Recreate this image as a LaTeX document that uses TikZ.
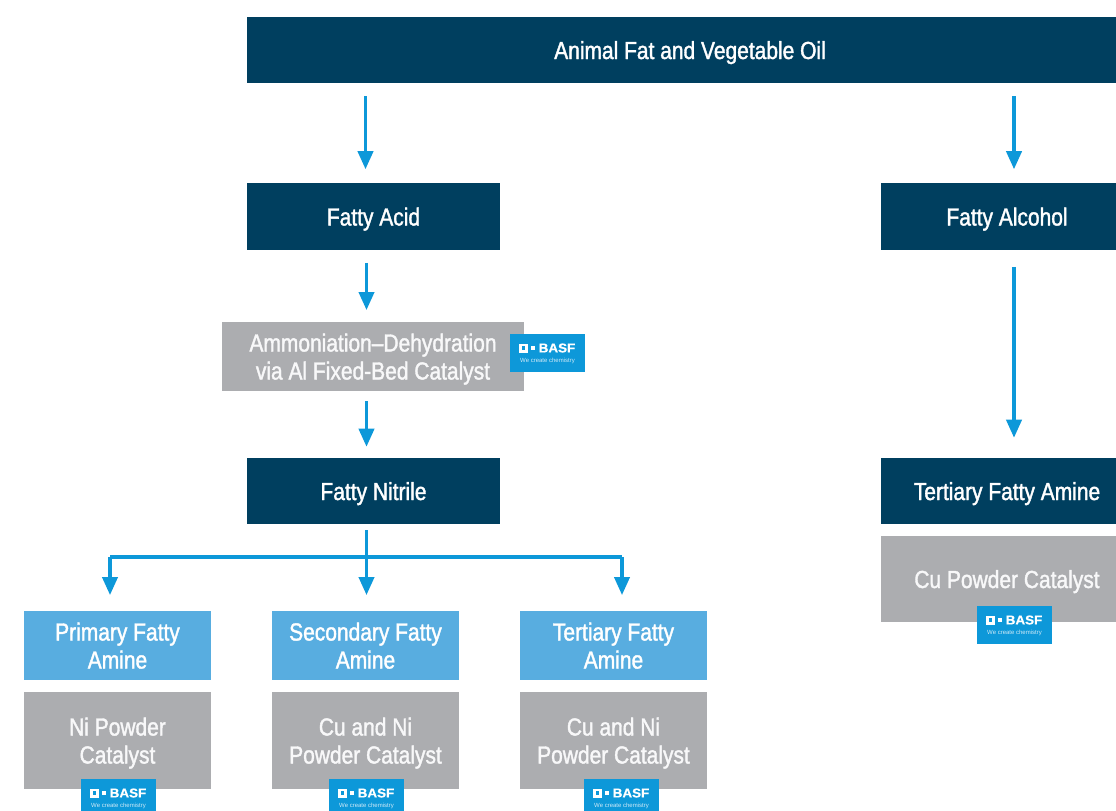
\documentclass[tikz,border=0pt]{standalone}
\usepackage{fontspec}
\setmainfont{Liberation Sans}[FakeStretch=0.85,FakeBold=1.5]
\newfontfamily\logofont{Liberation Sans}[FakeStretch=1.05,FakeBold=0.6]
\newfontfamily\tagfont{Liberation Sans}
\usetikzlibrary{arrows.meta}
\definecolor{darkbox}{HTML}{003F5F}
\definecolor{lightbox}{HTML}{58ADE0}
\definecolor{greybox}{HTML}{ACADB0}
\definecolor{flow}{HTML}{0D98D9}
\tikzset{
  x=0.75pt,y=-0.75pt,
  every node/.style={inner sep=0pt,outer sep=0pt},
  txt/.style={text=white,font=\fontsize{18.5pt}{21pt}\selectfont,align=center,text height=14pt,text depth=0.5pt},
  twolines/.style={text height=35pt,text depth=0.5pt},
  darkstyle/.style={fill=darkbox,txt},
  lightstyle/.style={fill=lightbox,txt,twolines,minimum width=140.25pt,minimum height=51.75pt},
  greystyle/.style={fill=greybox,txt,text=white!92!greybox},
  logobox/.style={fill=flow,minimum width=56.25pt,minimum height=28.5pt},
  flowline/.style={draw=flow,line width=2.3pt},
  flowarrow/.style={flowline,-{Triangle[length=13.5pt,width=11.5pt]}},
  logomark/.style={font=\logofont\bfseries\fontsize{9.6pt}{10pt}\selectfont,text=white},
  logotag/.style={font=\tagfont\fontsize{4.5pt}{5pt}\selectfont,text=white!80!flow},
  logosq/.style={draw=white,line width=2pt,minimum size=4.75pt},
  logodot/.style={fill=white,minimum size=3pt},
  pics/basflogo/.style={code={
    \node[logobox] (-bg) at (0,0) {};
    \node[logosq] (-sq) at (-24,-5) {};
    \node[logodot] (-dot) at (-14.5,-5) {};
    \node[logomark] (-name) at (9.5,-5) {BASF};
    \node[logotag] (-tag) at (0,8) {We create chemistry};
  }}
}
\begin{document}
\begin{tikzpicture}
\useasboundingbox (0,0) rectangle (1116,810);
\clip (0,0) rectangle (1116,810);
% dark boxes
\node[darkstyle,minimum width=664.5pt,minimum height=50pt] (oil) at (690,50) {Animal Fat and Vegetable Oil};
\node[darkstyle,minimum width=189.75pt,minimum height=50pt] (acid) at (373.5,216.5) {Fatty Acid};
\node[darkstyle,minimum width=189.75pt,minimum height=50pt] (alcohol) at (1007,216.5) {Fatty Alcohol};
\node[darkstyle,minimum width=189.75pt,minimum height=50pt] (nitrile) at (373.5,491) {Fatty Nitrile};
\node[darkstyle,minimum width=189.75pt,minimum height=50pt] (tertalc) at (1007,491) {Tertiary Fatty Amine};
% process boxes
\node[greystyle,twolines,minimum width=226.5pt,minimum height=51.75pt] (ammon) at (373,356.5) {Ammoniation–Dehydration\\via Al Fixed-Bed Catalyst};
\node[greystyle,minimum width=189.75pt,minimum height=64.5pt] (cupow) at (1007,579) {Cu Powder Catalyst};
% amine boxes
\node[lightstyle] (prim) at (117.5,645.5) {Primary Fatty\\Amine};
\node[lightstyle] (sec) at (365.5,645.5) {Secondary Fatty\\Amine};
\node[lightstyle] (tert) at (613.5,645.5) {Tertiary Fatty\\Amine};
\node[greystyle,twolines,minimum width=140.25pt,minimum height=72.75pt] (nicat) at (117.5,740.5) {Ni Powder\\Catalyst};
\node[greystyle,twolines,minimum width=140.25pt,minimum height=72.75pt] (cunia) at (365.5,740.5) {Cu and Ni\\Powder Catalyst};
\node[greystyle,twolines,minimum width=140.25pt,minimum height=72.75pt] (cunib) at (613.5,740.5) {Cu and Ni\\Powder Catalyst};
% logos
\pic (logoa) at (547.5,353) {basflogo};
\pic (logob) at (1014.5,625) {basflogo};
\pic (logoc) at (118.5,798) {basflogo};
\pic (logod) at (366.5,798) {basflogo};
\pic (logoe) at (621.5,798) {basflogo};
% columns for connectors
\coordinate (colA) at (365.5,0);
\coordinate (colB) at (366.5,0);
\coordinate (colC) at (1014,0);
\coordinate (colP) at (110,0);
\coordinate (colT) at (622,0);
\coordinate (bus) at (0,557);
\draw[flowarrow,shorten <=9.75pt,shorten >=10.5pt] (oil.south -| colA) -- (acid.north -| colA);
\draw[flowarrow,shorten <=9.75pt,shorten >=10.5pt] (oil.south -| colC) -- (alcohol.north -| colC);
\draw[flowarrow,shorten <=9.75pt,shorten >=9pt] (acid.south -| colB) -- (ammon.north -| colB);
\draw[flowarrow,shorten <=7.5pt,shorten >=8.25pt] (ammon.south -| colB) -- (nitrile.north -| colB);
\draw[flowarrow,shorten <=12.75pt,shorten >=15pt] (alcohol.south -| colC) -- (tertalc.north -| colC);
\draw[flowarrow,shorten <=4.5pt,shorten >=12pt] (nitrile.south -| colB) -- (sec.north -| colB);
\draw[flowarrow,shorten >=12pt] (bus -| colP) -- (prim.north -| colP);
\draw[flowarrow,shorten >=12pt] (bus -| colT) -- (tert.north -| colT);
\draw[flowline,line cap=square] (bus -| colP) -- (bus -| colT);
\end{tikzpicture}
\end{document}
